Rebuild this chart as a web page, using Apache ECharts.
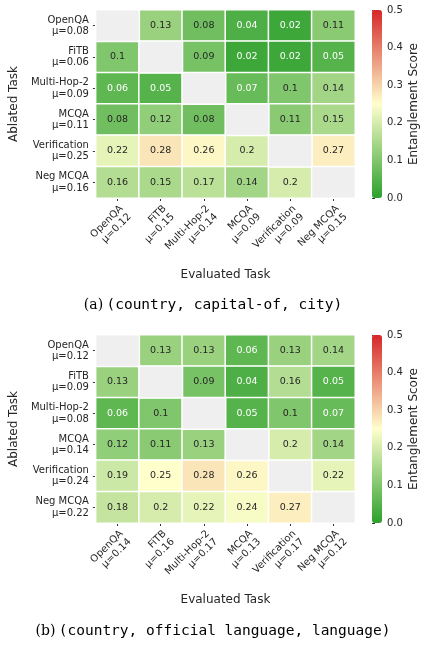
<!DOCTYPE html>
<html>
<head>
<meta charset="utf-8">
<script src="https://cdn.jsdelivr.net/npm/echarts@6/dist/echarts.min.js"></script>
<style>
  html, body { margin: 0; padding: 0; background: #fff; }
  #chart { width: 426px; height: 648px; }
</style>
</head>
<body>
<div id="chart"></div>
<script>
// task names
const tasks = ['OpenQA', 'FiTB', 'Multi-Hop-2', 'MCQA', 'Verification', 'Neg MCQA']

// (a) country, capital-of, city  -- rows = ablated, cols = evaluated
const valuesA = [
  [null, 0.13, 0.08, 0.04, 0.02, 0.11],
  [0.1, null, 0.09, 0.02, 0.02, 0.05],
  [0.06, 0.05, null, 0.07, 0.1, 0.14],
  [0.08, 0.12, 0.08, null, 0.11, 0.15],
  [0.22, 0.28, 0.26, 0.2, null, 0.27],
  [0.16, 0.15, 0.17, 0.14, 0.2, null]
]
const rowMeanA = ['0.08', '0.06', '0.09', '0.11', '0.25', '0.16']
const colMeanA = ['0.12', '0.15', '0.14', '0.09', '0.09', '0.15']

// (b) country, official language, language
const valuesB = [
  [null, 0.13, 0.13, 0.06, 0.13, 0.14],
  [0.13, null, 0.09, 0.04, 0.16, 0.05],
  [0.06, 0.1, null, 0.05, 0.1, 0.07],
  [0.12, 0.11, 0.13, null, 0.2, 0.14],
  [0.19, 0.25, 0.28, 0.26, null, 0.22],
  [0.18, 0.2, 0.22, 0.24, 0.27, null]
]
const rowMeanB = ['0.12', '0.09', '0.08', '0.14', '0.24', '0.22']
const colMeanB = ['0.14', '0.16', '0.17', '0.13', '0.17', '0.12']

const colorbarTicks = [0, 0.1, 0.2, 0.3, 0.4, 0.5]

const FONT = 'DejaVu Sans'
const TXT = '#262626'
const cmap = ['#2ca02c', '#ffffcc', '#d62728']

function cells(matrix) {
  const out = []
  matrix.forEach((row, y) => {
    row.forEach((v, x) => {
      if (v === null) return
      out.push({
        value: [x, y, v],
        label: { color: v < 0.075 ? '#ffffff' : TXT }
      })
    })
  })
  return out
}

function diag(matrix) {
  const out = []
  matrix.forEach((row, y) => {
    row.forEach((v, x) => {
      if (v === null) out.push([x, y, 0])
    })
  })
  return out
}

function catLabels(means) {
  return tasks.map((t, i) => t + '\nμ=' + means[i])
}

const gridTops = [10, 335]
const gridH = 188

function heatAxes(idx, rowMeans, colMeans) {
  const x = {
    type: 'category',
    gridIndex: idx * 2,
    data: catLabels(colMeans),
    name: 'Evaluated Task',
    nameLocation: 'middle',
    nameGap: 71,
    nameTextStyle: { fontFamily: FONT, fontSize: 12, color: TXT },
    axisLine: { show: false },
    axisTick: { show: true, alignWithLabel: true, length: 3, lineStyle: { color: '#333', width: 1 } },
    axisLabel: {
      rotate: 45,
      interval: 0,
      margin: 5,
      align: 'right',
      verticalAlign: 'top',
      fontFamily: FONT,
      fontSize: 10,
      lineHeight: 11.5,
      color: TXT
    },
    splitLine: { show: false }
  }
  const y = {
    type: 'category',
    gridIndex: idx * 2,
    inverse: true,
    data: catLabels(rowMeans),
    name: 'Ablated Task',
    nameLocation: 'middle',
    nameGap: 70,
    nameRotate: 90,
    nameTextStyle: { fontFamily: FONT, fontSize: 12, color: TXT },
    axisLine: { show: false },
    axisTick: { show: true, alignWithLabel: true, length: 3, lineStyle: { color: '#333', width: 1 } },
    axisLabel: {
      interval: 0,
      margin: 7,
      align: 'right',
      fontFamily: FONT,
      fontSize: 10,
      lineHeight: 11.5,
      color: TXT
    },
    splitLine: { show: false }
  }
  return [x, y]
}

function barAxes(idx) {
  const x = { type: 'value', gridIndex: idx * 2 + 1, min: 0, max: 1, show: false }
  const y = {
    type: 'value',
    gridIndex: idx * 2 + 1,
    position: 'right',
    min: 0,
    max: 0.5,
    interval: 0.1,
    name: 'Entanglement Score',
    nameLocation: 'middle',
    nameGap: 26,
    nameRotate: 90,
    nameTextStyle: { fontFamily: FONT, fontSize: 12, color: TXT },
    axisLine: { show: false },
    axisTick: { show: true, length: 3, lineStyle: { color: '#333' } },
    axisLabel: {
      margin: 5,
      fontFamily: FONT,
      fontSize: 10,
      color: TXT,
      formatter: v => colorbarTicks.indexOf(v) >= 0 ? v.toFixed(1) : ''
    },
    splitLine: { show: false }
  }
  return [x, y]
}

const axA = heatAxes(0, rowMeanA, colMeanA)
const axB = heatAxes(1, rowMeanB, colMeanB)
const cbA = barAxes(0)
const cbB = barAxes(1)

function heatSeries(idx, matrix) {
  return {
    type: 'heatmap',
    xAxisIndex: idx * 2,
    yAxisIndex: idx * 2,
    data: cells(matrix),
    itemStyle: { borderColor: '#ffffff', borderWidth: 1.5 },
    label: { show: true, fontFamily: FONT, fontSize: 9.5, formatter: p => String(p.value[2]) },
    emphasis: { disabled: true }
  }
}

function diagSeries(idx, matrix) {
  return {
    type: 'heatmap',
    xAxisIndex: idx * 2,
    yAxisIndex: idx * 2,
    data: diag(matrix),
    itemStyle: { color: '#efefef', borderColor: '#ffffff', borderWidth: 1.5 },
    label: { show: false },
    emphasis: { disabled: true }
  }
}

const chart = echarts.init(document.getElementById('chart'))

const option = {
  animation: false,
  backgroundColor: '#ffffff',
  grid: [
    { left: 87, top: gridTops[0], width: 268, height: gridH },
    { left: 372, top: gridTops[0], width: 10, height: gridH },
    { left: 87, top: gridTops[1], width: 268, height: gridH },
    { left: 372, top: gridTops[1], width: 10, height: gridH }
  ],
  xAxis: [axA[0], cbA[0], axB[0], cbB[0]],
  yAxis: [axA[1], cbA[1], axB[1], cbB[1]],
  visualMap: [
    {
      type: 'continuous', seriesIndex: 0, min: 0, max: 0.5,
      left: 372, top: gridTops[0], itemWidth: 10, itemHeight: gridH,
      padding: 0, calculable: false, text: null, showLabel: false,
      inRange: { color: cmap }
    },
    {
      type: 'continuous', seriesIndex: 2, min: 0, max: 0.5,
      left: 372, top: gridTops[1], itemWidth: 10, itemHeight: gridH,
      padding: 0, calculable: false, text: null, showLabel: false,
      inRange: { color: cmap }
    }
  ],
  series: [
    heatSeries(0, valuesA),
    diagSeries(0, valuesA),
    heatSeries(1, valuesB),
    diagSeries(1, valuesB),
    { type: 'scatter', xAxisIndex: 1, yAxisIndex: 1, data: [] },
    { type: 'scatter', xAxisIndex: 3, yAxisIndex: 3, data: [] }
  ],
  graphic: [
    {
      type: 'text', left: 'center', top: 298,
      style: {
        text: '{s|(a)} {m|(country, capital-of, city)}',
        rich: {
          s: { fontFamily: 'DejaVu Serif', fontSize: 14, fill: '#000' },
          m: { fontFamily: 'DejaVu Sans Mono', fontSize: 14.5, fill: '#000' }
        }
      }
    },
    {
      type: 'text', left: 'center', top: 624,
      style: {
        text: '{s|(b)} {m|(country, official language, language)}',
        rich: {
          s: { fontFamily: 'DejaVu Serif', fontSize: 14, fill: '#000' },
          m: { fontFamily: 'DejaVu Sans Mono', fontSize: 14.5, fill: '#000' }
        }
      }
    }
  ]
}

chart.setOption(option)
</script>
</body>
</html>
